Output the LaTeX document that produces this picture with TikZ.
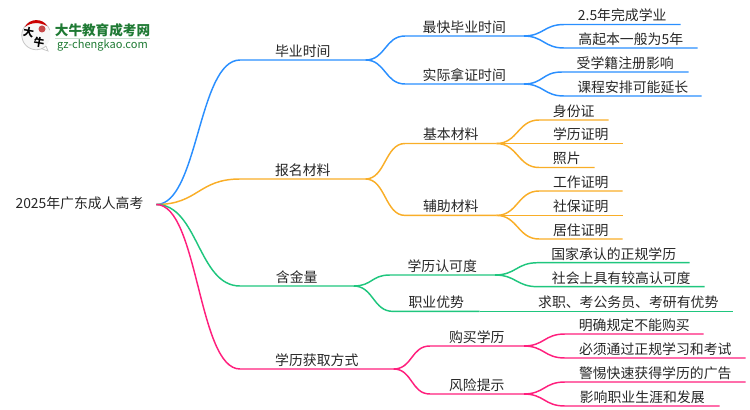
\documentclass[tikz,border=0pt]{standalone}
\usepackage{fontspec}
\setmainfont{Noto Sans CJK SC}
\definecolor{mapblue}{HTML}{2A8FFF}
\definecolor{maporange}{HTML}{F9AE28}
\definecolor{mapgreen}{HTML}{1FC67E}
\definecolor{mappink}{HTML}{FF1F7D}
\definecolor{logogreen}{HTML}{1F7A34}
\tikzset{
    topic/.style={inner sep=0pt, minimum height=11.6pt, anchor=south west, text=black!85, font=\fontsize{10.4}{10.4}\selectfont, text height=8pt, text depth=1.5pt},
    wide/.style={minimum width=#1*0.75pt},
    link/.style={draw=#1, line width=1.1pt},
}
\begin{document}
\begin{tikzpicture}[x=0.75pt, y=-0.75pt]
    \useasboundingbox (0,0) rectangle (750,410);
    % logo
    \fill[black!3] (36,35) circle (14.5);
    \draw[black!22, line width=0.6pt] (46,46) arc (48:340:14.5) (46,46) -- (48,51) -- (41,48.5);
    \fill[red!80!black] (25,27) .. controls (29,18) and (43,18) .. (47,26) .. controls (40,22) and (31,22) .. (25,27);
    \fill[red!70!black, opacity=0.7] (42,29) circle (3.5);
    \node[inner sep=0pt, font=\fontsize{8}{8}\selectfont\bfseries, rotate=-10] (logobig) at (28.5,32.5) {大};
    \node[inner sep=0pt, font=\fontsize{8}{8}\selectfont\bfseries, rotate=-10] (logoox) at (39,42) {牛};
    \node[inner sep=0pt, font=\fontsize{10.2}{10.2}\selectfont\bfseries, text=logogreen] (logoname) at (102.5,30) {大牛教育成考网};
    \node[inner sep=0pt, font=\fontsize{8.3}{8.3}\selectfont, text=logogreen] (logourl) at (102.5,45) {gz-chengkao.com};
    \fill[logogreen!25] (55,38) rectangle (150,39);
    % root
    \node[topic, anchor=center, wide=153] (root) at (79.5,204.5) {2025年广东成人高考};
    % first level
    \node[topic, wide=125] (grad) at (240,60) {毕业时间};
    \node[topic, wide=125] (docs) at (240,179) {报名材料};
    \node[topic, wide=113] (worth) at (240,286) {含金量};
    \node[topic, wide=153] (ways) at (240,369) {学历获取方式};
    % second level
    \node[topic, wide=118] (fast) at (405,36) {最快毕业时间};
    \node[topic, wide=118] (real) at (405,84) {实际拿证时间};
    \node[topic, wide=91] (basic) at (405,143.5) {基本材料};
    \node[topic, wide=91] (extra) at (405,215.4) {辅助材料};
    \node[topic, wide=104] (accept) at (390,275) {学历认可度};
    \node[topic, wide=86] (career) at (393,311.4) {职业优势};
    \node[topic, wide=93] (buy) at (430,346) {购买学历};
    \node[topic, wide=93] (risk) at (430,394) {风险提示};
    % leaves
    \node[topic, wide=116] (leafa) at (564,24.5) {2.5年完成学业};
    \node[topic, wide=133] (leafb) at (564,48) {高起本一般为5年};
    \node[topic, wide=126] (leafc) at (562,72) {受学籍注册影响};
    \node[topic, wide=137] (leafd) at (564,96) {课程安排可能延长};
    \node[topic, wide=69] (leafe) at (539,120) {身份证};
    \node[topic, wide=83] (leaff) at (539,143.5) {学历证明};
    \node[topic, wide=55] (leafg) at (539,167.5) {照片};
    \node[topic, wide=83] (leafh) at (539,191) {工作证明};
    \node[topic, wide=83] (leafi) at (539,215.4) {社保证明};
    \node[topic, wide=83] (leafj) at (539,239) {居住证明};
    \node[topic, wide=151] (leafk) at (538,262.7) {国家承认的正规学历};
    \node[topic, wide=166] (leafl) at (538,286.7) {社会上具有较高认可度};
    \node[topic, wide=208] (leafm) at (524,311.4) {求职、考公务员、考研有优势};
    \node[topic, wide=138] (leafn) at (565,334) {明确规定不能购买};
    \node[topic, wide=180] (leafo) at (565,358) {必须通过正规学习和考试};
    \node[topic, wide=180] (leafp) at (565,382) {警惕快速获得学历的广告};
    \node[topic, wide=154] (leafq) at (565,406) {影响职业生涯和发展};
    % connectors
    \foreach \col/\to in {mapblue/grad, maporange/docs, mapgreen/worth, mappink/ways}
        \draw[link=\col] (root.east) .. controls +(42,0) and +(-42,0) .. (\to.south west) -- (\to.south east);
    \foreach \col/\from/\to/\d in {
        mapblue/grad/fast/20, mapblue/grad/real/20, maporange/docs/basic/20, maporange/docs/extra/20,
        mapgreen/worth/accept/19, mapgreen/worth/career/20, mappink/ways/buy/19, mappink/ways/risk/19,
        mapblue/fast/leafa/20, mapblue/fast/leafb/20, mapblue/real/leafc/20, mapblue/real/leafd/20,
        maporange/basic/leafe/21, maporange/basic/leaff/21, maporange/basic/leafg/21,
        maporange/extra/leafh/21, maporange/extra/leafi/21, maporange/extra/leafj/21,
        mapgreen/accept/leafk/22, mapgreen/accept/leafl/22, mapgreen/career/leafm/22,
        mappink/buy/leafn/21, mappink/buy/leafo/21, mappink/risk/leafp/21, mappink/risk/leafq/21}
        \draw[link=\col] (\from.south east) .. controls +(\d,0) and +(-\d,0) .. (\to.south west) -- (\to.south east);
\end{tikzpicture}
\end{document}
